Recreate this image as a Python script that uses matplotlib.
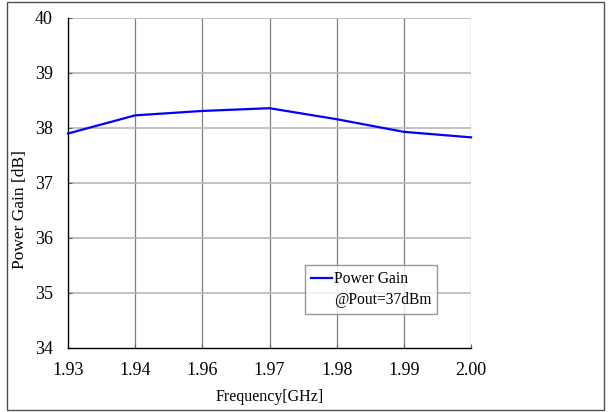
import numpy as np
import matplotlib
matplotlib.use("Agg")
from matplotlib import pyplot as plt
from matplotlib.lines import Line2D
from matplotlib.patches import Rectangle

plt.rcParams['font.family'] = ['Liberation Serif', 'DejaVu Serif']

# measured gain at each frequency point
freq_labels = ['1.93', '1.94', '1.96', '1.97', '1.98', '1.99', '2.00']
gain_db = [37.90, 38.23, 38.31, 38.36, 38.16, 37.93, 37.83]
y_ticks = [34, 35, 36, 37, 38, 39, 40]

fig = plt.figure(figsize=(6.08, 4.12), dpi=100)
ax = fig.add_axes([68 / 608, 1 - 348 / 412, (471 - 68) / 608, (348 - 18) / 412])

x = np.arange(len(freq_labels))
line, = ax.plot(x, gain_db, color='#0000ff', lw=1.6, clip_on=False, zorder=3)

ax.set_xlim(0, len(freq_labels) - 1)
ax.set_ylim(34, 40)
ax.set_xticks(x)
ax.set_xticklabels(freq_labels)
ax.set_yticks(y_ticks)

# vertical grid darker than horizontal
for xi in x[1:]:
    ax.axvline(xi, color='#808080', lw=0.9, zorder=1)
for yi in y_ticks[1:]:
    ax.axhline(yi, color='#b8b8b8', lw=1.2, zorder=1)

for side in ('top', 'right'):
    ax.spines[side].set_visible(False)
for side in ('left', 'bottom'):
    ax.spines[side].set_color('black')
    ax.spines[side].set_linewidth(1.0)

ax.tick_params(axis='both', direction='in', length=3, labelsize=13, color='#606060')
ax.tick_params(axis='x', pad=10)
ax.tick_params(axis='y', pad=11)
ax.set_xlabel('Frequency[GHz]', fontsize=11.5)
ax.set_ylabel('Power Gain [dB]', fontsize=12.5)
ax.xaxis.set_label_coords(0.5, -0.123)
ax.yaxis.set_label_coords(-0.099, 0.42)

# second legend row carries the condition text without a handle
blank = Line2D([], [], color='none')
leg = ax.legend([line, blank], ['Power Gain', '@Pout=37dBm'],
                loc='upper left', bbox_to_anchor=((305 - 68) / 403, (348 - 265) / 330),
                frameon=True, fancybox=False, fontsize=11.2, handlelength=1.35,
                handletextpad=0.1, borderpad=0.4, borderaxespad=0, labelspacing=0.3)
leg.get_frame().set_edgecolor('#808080')
leg.get_frame().set_linewidth(1.0)

# outer border around the whole figure
fig.patches.append(Rectangle((7 / 608, 2 / 412), 597 / 608, 408 / 412, transform=fig.transFigure,
                             fill=False, edgecolor='#505050', lw=1.0))

fig.savefig('out.png', dpi=100)
